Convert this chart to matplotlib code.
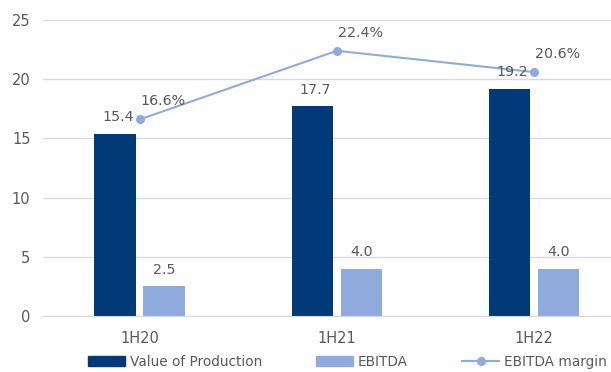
import matplotlib
matplotlib.use("Agg")
import matplotlib.pyplot as plt
import numpy as np
from matplotlib.lines import Line2D
from matplotlib.patches import Patch

categories = ["1H20", "1H21", "1H22"]
value_of_production = [15.4, 17.7, 19.2]
ebitda = [2.5, 4.0, 4.0]
ebitda_margin = [16.6, 22.4, 20.6]
yticks = [0, 5, 10, 15, 20, 25]

dark = "#003A78"
light = "#8FAADC"
txt = "#595959"
grid = "#D9D9D9"

plt.rcParams['font.family'] = ['DejaVu Sans']
fig = plt.figure(figsize=(6.11, 3.72), dpi=100)
ax = fig.add_axes([43/611, 56/372, 1 - 43/611, (316-20)/372])

x = np.arange(len(categories))
w = 0.21
off = 0.124
ax.bar(x - off, value_of_production, w, color=dark, zorder=2)
ax.bar(x + off, ebitda, w, color=light, zorder=2)
ax.plot(x, ebitda_margin, color=light, lw=1.5, marker='o', ms=5.5, zorder=3)

for xi, v in zip(x - off, value_of_production):
    ax.annotate(f"{v:.1f}", (xi, v), xytext=(2, 12), textcoords='offset points',
                ha='center', va='center', color=txt, fontsize=10.3)
for xi, v in zip(x + off, ebitda):
    ax.annotate(f"{v:.1f}", (xi, v), xytext=(0, 12), textcoords='offset points',
                ha='center', va='center', color=txt, fontsize=10.3)
for xi, v in zip(x, ebitda_margin):
    ax.annotate(f"{v:.1f}%", (xi, v), xytext=(17, 13), textcoords='offset points',
                ha='center', va='center', color=txt, fontsize=10.3)

ax.set_ylim(0, 25)
ax.set_xlim(-0.49, 2.39)
ax.set_yticks(yticks)
ax.set_xticks(x)
ax.set_xticklabels(categories)
ax.tick_params(axis='both', length=0, labelcolor=txt, labelsize=10.5)
ax.tick_params(axis='x', pad=11)
ax.tick_params(axis='y', pad=9)
ax.yaxis.grid(True, color=grid, lw=1, zorder=0)
ax.set_axisbelow(True)
for s in ['top', 'right', 'left']:
    ax.spines[s].set_visible(False)
ax.spines['bottom'].set_color(grid)

handles = [Patch(color=dark, label="Value of Production"),
           Patch(color=light, label="EBITDA"),
           Line2D([0], [0], color=light, lw=1.5, marker='o', ms=5.5, label="EBITDA margin")]
leg = fig.legend(handles=handles, loc='center left', bbox_to_anchor=(88/611, 10/372), ncol=3,
                 frameon=False, fontsize=9.8, handlelength=2.7, handleheight=0.7,
                 handletextpad=0.35, columnspacing=4.0, labelcolor=txt, borderpad=0.0,
                 borderaxespad=0.0)

fig.savefig("out.png", dpi=100)
